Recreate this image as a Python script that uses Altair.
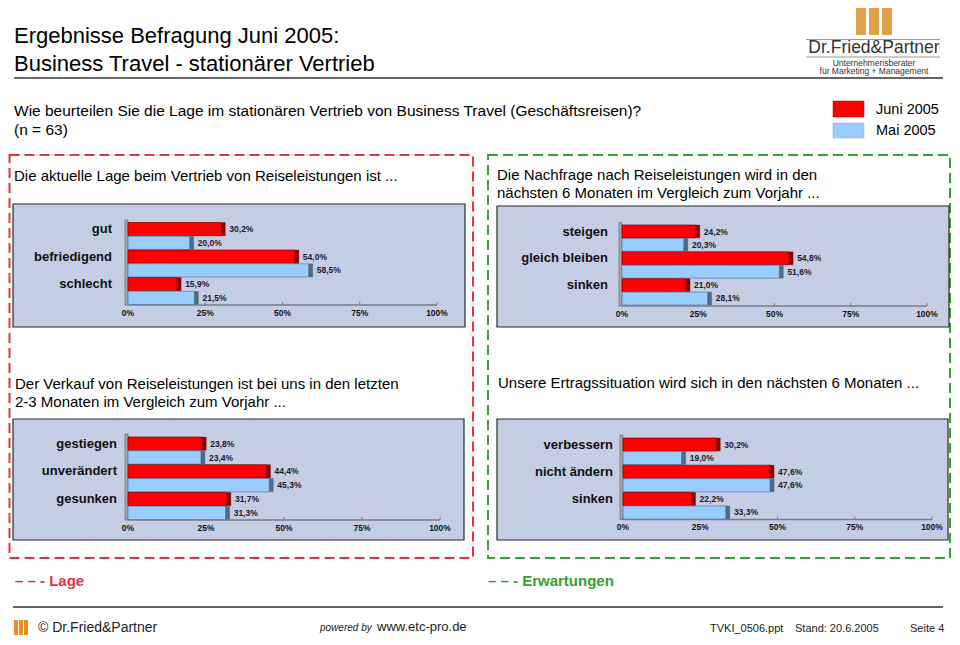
import altair as alt
import pandas as pd

OFF = 8
FONT = "Liberation Sans"

# ---------------- data ----------------
series = ["Juni 2005", "Mai 2005"]
series_colors = ["#FF0000", "#99CCFF"]
edge_colors = ["#7A0000", "#5C7896"]
side_colors = ["#8E0000", "#4E6A88"]

p1_title = ["Die aktuelle Lage beim Vertrieb von Reiseleistungen ist ..."]
p1_cats = ["gut", "befriedigend", "schlecht"]
p1_juni = [30.2, 54.0, 15.9]
p1_mai = [20.0, 58.5, 21.5]

p2_title = ["Die Nachfrage nach Reiseleistungen wird in den",
            "nächsten 6 Monaten im Vergleich zum Vorjahr ..."]
p2_cats = ["steigen", "gleich bleiben", "sinken"]
p2_juni = [24.2, 54.8, 21.0]
p2_mai = [20.3, 51.6, 28.1]

p3_title = ["Der Verkauf von Reiseleistungen ist bei uns in den letzten",
            "2-3 Monaten im Vergleich zum Vorjahr ..."]
p3_cats = ["gestiegen", "unverändert", "gesunken"]
p3_juni = [23.8, 44.4, 31.7]
p3_mai = [23.4, 45.3, 31.3]

p4_title = ["Unsere Ertragssituation wird sich in den nächsten 6 Monaten ..."]
p4_cats = ["verbessern", "nicht ändern", "sinken"]
p4_juni = [30.2, 47.6, 22.2]
p4_mai = [19.0, 47.6, 33.3]

tick_values = [0, 25, 50, 75, 100]

# ---------------- layout (reference pixel coordinates) ----------------
LAYOUT = [
    dict(x0=128, x100=437, top=222.5, bottom=304.5, floor=305, ticky=313, catx=112, wall=220,
         bg=(13, 204, 465, 327), tx=14, ty=[181]),
    dict(x0=622, x100=927, top=225, bottom=305, floor=306, ticky=314, catx=608, wall=222.5,
         bg=(497, 206, 949, 327), tx=497, ty=[180, 198]),
    dict(x0=128, x100=440, top=437, bottom=519.5, floor=520, ticky=528, catx=117, wall=434,
         bg=(13, 419, 464, 540), tx=15, ty=[389, 407]),
    dict(x0=623, x100=932, top=438, bottom=519, floor=519.5, ticky=527, catx=613, wall=435,
         bg=(497, 419, 948, 540), tx=498, ty=[388]),
]
FOOT = -7  # footer moved up slightly so it fits inside the page

dummy = pd.DataFrame({"d": [0]})


def txt(s, x, y, size, color="#000000", weight="normal", align="left",
        baseline="alphabetic", style="normal", font=FONT):
    return alt.Chart(dummy).mark_text(
        text=s, align=align, baseline=baseline, fontSize=size, fontWeight=weight,
        color=color, font=font, fontStyle=style
    ).encode(x=alt.value(x - OFF), y=alt.value(y - OFF))


def rect(x1, y1, x2, y2, fill="#ffffff", stroke=None, sw=1.0, dash=None, fill_opacity=1.0):
    kw = dict(fill=fill, fillOpacity=fill_opacity, strokeWidth=sw)
    if stroke is not None:
        kw["stroke"] = stroke
    if dash is not None:
        kw["strokeDash"] = dash
    return alt.Chart(dummy).mark_rect(**kw).encode(
        x=alt.value(x1 - OFF), x2=alt.value(x2 - OFF),
        y=alt.value(y1 - OFF), y2=alt.value(y2 - OFF))


def hline(x1, x2, y, color="#333333", width=1.0):
    return alt.Chart(dummy).mark_rule(color=color, strokeWidth=width).encode(
        x=alt.value(x1 - OFF), x2=alt.value(x2 - OFF), y=alt.value(y - OFF))


def fmt(v):
    return f"{v:.1f}".replace(".", ",") + "%"


def panel(cats, juni, mai, L):
    rows = []
    for c, j, m in zip(cats, juni, mai):
        for s, v in zip(series, (j, m)):
            rows.append({"cat": c, "series": s, "key": c + "|" + s, "value": v, "label": fmt(v)})
    df = pd.DataFrame(rows)
    keys = list(df["key"])

    def xs():
        return alt.Scale(domain=[0, 100], range=[L["x0"] - OFF, L["x100"] - OFF])

    def ys():
        return alt.Scale(domain=keys, range=[L["top"] - OFF, L["bottom"] - OFF],
                         paddingInner=0.04, paddingOuter=0)

    def X():
        return alt.X("value:Q", scale=xs(), axis=None, stack=None)

    def Y(bp=None):
        if bp is None:
            return alt.Y("key:N", scale=ys(), axis=None, sort=keys)
        return alt.Y("key:N", scale=ys(), axis=None, sort=keys, bandPosition=bp)

    base = alt.Chart(df)
    tdf = pd.DataFrame({"t": tick_values, "lab": [f"{t}%" for t in tick_values]})
    tbase = alt.Chart(tdf)

    layers = []
    # 3D wall at the left (at 0%)
    layers.append(tbase.mark_rect(
        fill="#A8A8B0", stroke="#5A5A66", strokeWidth=0.6, xOffset=-3
    ).encode(x=alt.X("min(t):Q", scale=xs(), axis=None), x2="min(t):Q",
             y=alt.value(L["wall"] - OFF), y2=alt.value(L["floor"] - OFF)))
    # floor line and tick marks
    layers.append(tbase.mark_rule(color="#7A7A86", strokeWidth=1.4).encode(
        x=alt.X("min(t):Q", scale=xs(), axis=None), x2="max(t):Q",
        y=alt.value(L["floor"] - OFF)))
    layers.append(tbase.mark_rule(color="#7A7A86", strokeWidth=1).encode(
        x=alt.X("t:Q", scale=xs(), axis=None),
        y=alt.value(L["floor"] - OFF - 3), y2=alt.value(L["floor"] - OFF)))
    # bars
    layers.append(base.mark_bar(strokeWidth=0.7).encode(
        x=X(), y=Y(),
        fill=alt.Fill("series:N", scale=alt.Scale(domain=series, range=series_colors), legend=None),
        stroke=alt.Stroke("series:N", scale=alt.Scale(domain=series, range=edge_colors), legend=None),
    ))
    # 3D side faces
    for s, c in zip(series, side_colors):
        layers.append(base.transform_filter(alt.datum.series == s).mark_rect(
            fill=c, x2Offset=4, stroke=c, strokeWidth=0.3
        ).encode(x=X(), x2="value:Q", y=Y()))
    # value labels
    layers.append(base.mark_text(
        align="left", baseline="middle", dx=8, fontSize=8.5, fontWeight="bold",
        font=FONT, color="#1A1A2A"
    ).encode(x=X(), y=Y(), text="label:N"))
    # category labels
    layers.append(base.transform_filter(alt.datum.series == series[0]).mark_text(
        align="right", baseline="middle", fontSize=13, fontWeight="bold", font=FONT, color="#111111"
    ).encode(x=alt.value(L["catx"] - OFF), y=Y(1), text="cat:N"))
    # tick labels
    layers.append(tbase.mark_text(
        align="center", baseline="middle", fontSize=8.5, fontWeight="bold", font=FONT, color="#111111"
    ).encode(x=alt.X("t:Q", scale=xs(), axis=None), y=alt.value(L["ticky"] - OFF), text="lab:N"))
    return layers


RED = "#E2343C"
GREEN = "#36A032"

deco = []
# title
deco.append(txt("Ergebnisse Befragung Juni 2005:", 14, 43, 22))
deco.append(txt("Business Travel - stationärer Vertrieb", 14, 71, 22))
deco.append(hline(14, 943, 78, "#333333", 1.5))
# logo
for bx in (856, 869, 882):
    deco.append(rect(bx, 0, bx + 10, 35, fill="#E1A04A"))
deco.append(hline(806, 940, 39.5, "#999999", 1))
deco.append(txt("Dr.Fried&Partner", 874, 48, 17.5, color="#333333", align="center", baseline="middle"))
deco.append(hline(806, 940, 57, "#999999", 1))
deco.append(txt("Unternehmensberater", 874, 62.5, 8.5, color="#333333", align="center", baseline="middle"))
deco.append(txt("für Marketing + Management", 874, 71, 8.5, color="#333333", align="center", baseline="middle"))
# question
deco.append(txt("Wie beurteilen Sie die Lage im stationären Vertrieb von Business Travel (Geschäftsreisen)?",
                14, 116, 15.5))
deco.append(txt("(n = 63)", 14, 135, 15.5))
# legend
deco.append(rect(833, 101, 864, 117, fill=series_colors[0], stroke="#B00000", sw=0.5))
deco.append(rect(833, 123, 864, 138, fill=series_colors[1], stroke="#88AACC", sw=0.5))
deco.append(txt(series[0], 876, 109.5, 14.5, baseline="middle"))
deco.append(txt(series[1], 876, 131, 14.5, baseline="middle"))
# dashed group boxes
deco.append(rect(9.5, 155, 473, 558, fill="#ffffff", fill_opacity=0, stroke=RED, sw=2, dash=[10, 5]))
deco.append(rect(488, 155, 950, 558, fill="#ffffff", fill_opacity=0, stroke=GREEN, sw=2, dash=[10, 5]))
# panel backgrounds + questions
titles = [p1_title, p2_title, p3_title, p4_title]
for L, tl in zip(LAYOUT, titles):
    x1, y1, x2, y2 = L["bg"]
    deco.append(rect(x1, y1, x2, y2, fill="#C5CDE5", stroke="#2A2A2A", sw=1.2))
    for line, ty in zip(tl, L["ty"]):
        deco.append(txt(line, L["tx"], ty, 15))
# bottom legend
deco.append(txt("– – - Lage", 15, 586, 15, color=RED, weight="bold"))
deco.append(txt("– – - Erwartungen", 488, 586, 15, color=GREEN, weight="bold"))
# footer
deco.append(hline(13, 943, 607, "#333333", 1.5))
for bx in (14, 19, 24):
    deco.append(rect(bx, 627 + FOOT, bx + 4, 642 + FOOT, fill="#EE8A2A"))
deco.append(txt("© Dr.Fried&Partner", 38, 635 + FOOT, 14, color="#222222", baseline="middle"))
deco.append(txt("powered by", 320, 635 + FOOT, 10, color="#222222", baseline="middle", style="italic"))
deco.append(txt("www.etc-pro.de", 377, 634 + FOOT, 13, color="#222222", baseline="middle"))
deco.append(txt("TVKI_0506.ppt", 710, 636 + FOOT, 11, color="#222222", baseline="middle"))
deco.append(txt("Stand: 20.6.2005", 795, 636 + FOOT, 11, color="#222222", baseline="middle"))
deco.append(txt("Seite 4", 910, 636 + FOOT, 11, color="#222222", baseline="middle"))

panel_layers = []
panel_layers += panel(p1_cats, p1_juni, p1_mai, LAYOUT[0])
panel_layers += panel(p2_cats, p2_juni, p2_mai, LAYOUT[1])
panel_layers += panel(p3_cats, p3_juni, p3_mai, LAYOUT[2])
panel_layers += panel(p4_cats, p4_juni, p4_mai, LAYOUT[3])

chart = alt.layer(*deco, *panel_layers).resolve_scale(
    x="independent", y="independent"
).properties(
    width=944, height=629, autosize=alt.AutoSizeParams(type="none"), padding=0,
    background="#ffffff"
).configure_view(stroke=None)

chart.save("out.html", embed_options={"renderer": "svg", "actions": False})
